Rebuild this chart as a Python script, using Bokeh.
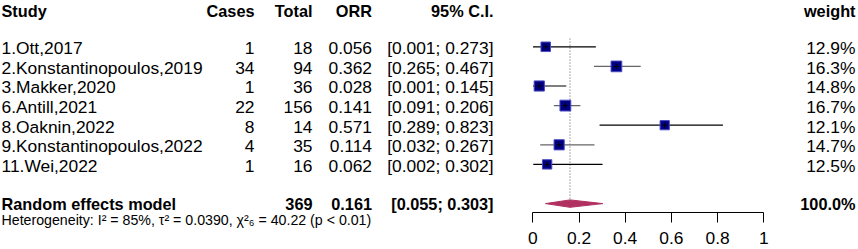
from bokeh.plotting import figure
from bokeh.models import Range1d, LinearAxis, FixedTicker, ColumnDataSource
from bokeh.core.properties import value
from bokeh.embed import file_html
from bokeh.resources import INLINE

# ---------------- data ----------------
studies = ["1.Ott,2017", "2.Konstantinopoulos,2019", "3.Makker,2020", "6.Antill,2021",
           "8.Oaknin,2022", "9.Konstantinopoulos,2022", "11.Wei,2022"]
cases = [1, 34, 1, 22, 8, 4, 1]
totals = [18, 94, 36, 156, 14, 35, 16]
orr = [0.056, 0.362, 0.028, 0.141, 0.571, 0.114, 0.062]
ci_lo = [0.001, 0.265, 0.001, 0.091, 0.289, 0.032, 0.002]
ci_hi = [0.273, 0.467, 0.145, 0.206, 0.823, 0.267, 0.302]
weights = [12.9, 16.3, 14.8, 16.7, 12.1, 14.7, 12.5]

summary_label = "Random effects model"
summary_total = 369
summary_est = 0.161
summary_lo = 0.055
summary_hi = 0.303
summary_weight = 100.0
heterogeneity = "Heterogeneity: I\u00b2 = 85%, \u03c4\u00b2 = 0.0390, \u03c7\u00b2\u2086 = 40.22 (p < 0.01)"

headers = ["Study", "Cases", "Total", "ORR", "95% C.I.", "weight"]
tick_values = [0, 0.2, 0.4, 0.6, 0.8, 1]
tick_labels = ["0", "0.2", "0.4", "0.6", "0.8", "1"]

# ---------------- layout / style ----------------
FONT_NAME = "Liberation Sans"
FONT = value(FONT_NAME)
FS = "17.4px"
FS_BOLD = "16.3px"
PX0, PXU = 532.3, 231.0          # pixel of x=0 and pixels per unit
def px2x(px):
    return (px - PX0) / PXU

ROW1_PX, ROW_H = 46.3, 19.6
def px2y(py):
    return 1 + (py - ROW1_PX) / ROW_H

col_study = px2x(1)
col_cases = px2x(254)
col_total = px2x(312)
col_orr = px2x(371.5)
col_ci = px2x(493)
col_weight = px2x(855)

n = len(studies)
rows = [i + 1 for i in range(n)]
text_dy = 0.07
summary_row = n + 2
line_colors = ["black", "#666666", "black", "#666666", "black", "#666666", "black"]
sizes = [26.5 * (w / 100) ** 0.5 for w in weights]

p = figure(width=858, height=249, output_backend="svg", toolbar_location=None,
           x_range=Range1d(px2x(0), px2x(858)), y_range=Range1d(px2y(249), px2y(0)),
           x_axis_location=None, y_axis_location=None,
           min_border_left=0, min_border_right=0, min_border_top=0, min_border_bottom=0)
p.outline_line_color = None
p.grid.visible = False
p.background_fill_color = "white"
p.border_fill_color = "white"

src = ColumnDataSource(dict(
    y=rows, ty=[r + text_dy for r in rows], study=studies,
    cases=[str(c) for c in cases], totals=[str(t) for t in totals],
    orr=["%.3f" % v for v in orr],
    ci=["[%.3f; %.3f]" % (a, b) for a, b in zip(ci_lo, ci_hi)],
    weight=["%.1f%%" % w for w in weights],
    est=orr, lo=ci_lo, hi=ci_hi, size=sizes, lc=line_colors,
))

txt = dict(text_font=FONT, text_font_size=FS, text_baseline="middle", text_color="black")
btxt = dict(text_font=FONT, text_font_size=FS_BOLD, text_baseline="middle",
            text_color="black", text_font_style="bold")

# table texts
p.text(x=col_study, y="ty", text="study", source=src, text_align="left", **txt)
p.text(x=col_cases, y="ty", text="cases", source=src, text_align="right", **txt)
p.text(x=col_total, y="ty", text="totals", source=src, text_align="right", **txt)
p.text(x=col_orr, y="ty", text="orr", source=src, text_align="right", **txt)
p.text(x=col_ci, y="ty", text="ci", source=src, text_align="right", **txt)
p.text(x=col_weight, y="ty", text="weight", source=src, text_align="right", **txt)

# headers
hx = [col_study, col_cases, col_total, col_orr, col_ci, col_weight]
ha = ["left", "right", "right", "right", "right", "right"]
hsrc = ColumnDataSource(dict(x=hx, y=[px2y(10.5)] * len(headers), t=headers, a=ha))
p.text(x="x", y="y", text="t", text_align="a", source=hsrc, **btxt)

# summary row
ssrc = ColumnDataSource(dict(
    x=[col_study, col_total, col_orr, col_ci, col_weight],
    y=[summary_row] * 5,
    t=[summary_label, str(summary_total), "%.3f" % summary_est,
       "[%.3f; %.3f]" % (summary_lo, summary_hi), "%.1f%%" % summary_weight],
    a=["left", "right", "right", "right", "right"]))
p.text(x="x", y="y", text="t", text_align="a", source=ssrc, **btxt)

# heterogeneity
p.text(x=[col_study], y=[px2y(219)], text=[heterogeneity], text_align="left",
       text_font=FONT, text_font_size="14.2px", text_baseline="middle", text_color="black")

# reference dotted line at pooled estimate
p.segment(x0=summary_est, y0=rows[0] - 0.42, x1=summary_est, y1=summary_row - 0.22,
          line_color="#555555", line_width=1, line_dash="1 2")

# CI lines
p.segment(x0="lo", y0="y", x1="hi", y1="y", source=src, line_color="lc", line_width=1.2)
# squares
p.scatter(x="est", y="y", size="size", marker="square", source=src,
          fill_color="#000080", line_color="#4a4ac4", line_width=1)
# small cross at estimate
p.scatter(x="est", y="y", size=5, marker="cross", source=src, line_color="black", line_width=1)

# diamond
h = 0.19
p.patch(x=[summary_lo, summary_est, summary_hi, summary_est],
        y=[summary_row, summary_row - h, summary_row, summary_row + h],
        fill_color="#B03060", line_color="#B03060", line_width=1)

# x axis, fixed inside the frame
ax = LinearAxis(bounds=(0, 1), ticker=FixedTicker(ticks=tick_values, minor_ticks=[]),
                fixed_location=px2y(212))
ax.major_label_overrides = {v: l for v, l in zip(tick_values, tick_labels)}
ax.major_tick_out = 10
ax.major_tick_in = 0
ax.minor_tick_out = 0
ax.minor_tick_in = 0
ax.axis_line_color = "black"
ax.major_tick_line_color = "black"
ax.major_label_text_font = FONT_NAME
ax.major_label_text_font_size = FS
ax.major_label_text_color = "black"
ax.major_label_standoff = 9
p.add_layout(ax, "below")

open("out.html", "w").write(file_html(p, INLINE))
